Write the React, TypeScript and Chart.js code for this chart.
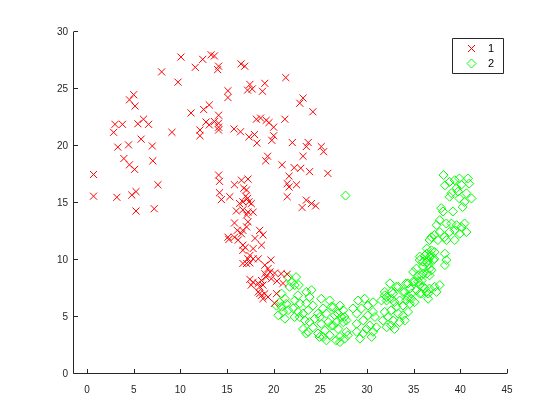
import React, { useEffect, useRef } from "react";
import { Chart, registerables } from "chart.js";

Chart.register(...registerables);

const class1X = [
  10.07, 12.4, 13.3, 13.65, 11.6, 14.1, 14.0, 8.0, 9.75, 5.0, 4.55, 5.15, 11.15, 12.5, 13.1, 14.1, 12.75, 13.1, 13.65, 14.1,
  14.1, 14.1, 12.1, 12.1, 3.0, 3.8, 2.85, 5.45, 6.05, 6.6, 9.1, 5.8, 4.45, 3.3, 7.0, 3.95, 4.55, 5.1, 7.05, 0.7,
  0.7, 3.2, 4.8, 5.25, 7.6, 5.25, 7.2, 14.1, 14.2, 14.2, 14.4, 16.5, 16.9, 21.3, 17.45, 17.2, 17.7, 19.05, 18.8, 15.1,
  15.1, 23.15, 22.8, 24.2, 15.75, 16.45, 18.15, 18.6, 19.2, 19.5, 17.35, 17.95, 18.2, 20.0, 20.0, 19.8, 21.2, 22.0, 23.7, 23.5,
  25.1, 25.35, 19.35, 19.15, 23.15, 20.9, 22.2, 22.9, 23.85, 25.8, 21.65, 21.45, 21.65, 22.45, 21.45, 23.5, 24.05, 24.5, 23.05, 15.3,
  15.8, 16.55, 17.25, 16.8, 17.1, 17.0, 17.2, 16.7, 17.35, 17.6, 16.35, 16.0, 16.7, 17.25, 17.8, 17.1, 17.25, 17.1, 15.8, 16.1,
  16.55, 16.7, 15.1, 15.2, 15.8, 16.2, 18.5, 18.85, 18.0, 18.7, 16.7, 16.95, 16.7, 17.8, 17.45, 17.25, 17.8, 18.35, 16.7, 17.1,
  17.45, 19.05, 19.7, 19.4, 19.05, 19.6, 20.1, 20.8, 21.45, 19.2, 18.7, 19.75, 21.0, 20.35, 17.45, 17.8, 17.6, 18.35, 18.5, 18.85,
  18.35, 18.7, 19.05, 18.85, 19.4, 18.5, 20.3, 20.1,
];
const class1Y = [
  27.8, 27.6, 28.0, 27.9, 26.9, 27.0, 26.7, 26.5, 25.6, 24.5, 24.05, 23.5, 22.9, 23.2, 23.6, 22.7, 22.1, 21.85, 22.15, 22.0,
  21.65, 21.4, 21.4, 20.9, 21.9, 21.9, 21.2, 21.95, 22.35, 21.9, 21.2, 20.6, 20.1, 19.9, 20.0, 18.9, 18.35, 17.95, 18.7, 17.5,
  15.6, 15.5, 15.7, 16.0, 16.6, 14.3, 14.5, 17.45, 16.9, 15.9, 15.3, 27.2, 27.0, 26.0, 25.4, 24.9, 25.0, 25.5, 24.8, 24.85,
  24.25, 24.2, 23.75, 23.0, 21.5, 21.25, 22.35, 22.45, 22.25, 22.05, 20.8, 21.0, 20.25, 21.65, 20.9, 20.5, 22.35, 20.3, 20.3, 19.95,
  19.95, 19.5, 19.1, 18.7, 19.1, 18.35, 18.1, 18.05, 17.75, 17.6, 17.35, 16.7, 16.4, 16.6, 15.55, 15.25, 14.95, 14.75, 14.6, 15.55,
  16.6, 17.0, 17.1, 16.3, 16.15, 15.6, 15.4, 15.1, 15.1, 14.95, 14.95, 14.3, 14.4, 14.2, 14.2, 13.95, 13.35, 12.9, 13.25, 12.6,
  12.3, 12.6, 12.0, 11.8, 12.0, 11.75, 12.6, 12.2, 11.9, 11.3, 11.3, 11.1, 10.85, 11.0, 10.4, 10.1, 10.1, 10.1, 9.7, 9.7,
  9.75, 9.55, 10.0, 9.25, 8.8, 8.95, 8.85, 8.8, 8.75, 8.5, 8.2, 8.35, 7.95, 8.15, 8.3, 8.05, 7.8, 7.95, 7.65, 7.8,
  7.2, 6.9, 7.05, 6.6, 6.75, 7.05, 7.05, 6.2,
];

const class2X = [
  21.55, 21.9, 22.25, 21.7, 20.85, 21.2, 20.65, 21.35, 20.85, 20.3, 20.5, 21.0, 21.55, 21.2,
  22.6, 22.25, 22.8, 22.1, 22.6, 22.25, 22.8, 23.15, 22.4, 22.7,
  23.5, 24.05, 23.85, 23.5, 24.2, 23.7, 23.35, 23.85, 24.4, 24.75, 24.2, 23.15, 23.7, 23.5,
  25.1, 26.0, 25.3, 26.2, 25.65, 24.95, 25.1, 25.85, 26.2, 25.5, 24.75, 25.3, 26.0, 25.65, 24.9,
  27.1, 27.45, 26.9, 27.25, 26.7, 27.45, 27.8, 26.9, 27.8, 27.1, 26.7, 27.6, 27.95, 27.7, 27.1,
  26.4, 26.55, 27.6, 26.4,
  28.5, 28.9, 29.05, 29.75, 30.65, 30.1, 29.4, 30.65, 30.1, 30.85, 29.6, 28.9, 30.3, 31.0, 29.95, 30.65, 29.6, 30.5, 28.9, 29.25,
  31.9, 32.6, 32.25, 31.7, 32.8, 33.35, 33.85, 34.4, 33.5, 34.05, 32.1, 32.6, 32.95,
  32.45, 33.15, 32.6, 31.9, 31.55, 32.1, 32.6, 32.95, 33.5, 34.2, 34.75, 35.1, 33.85, 34.6, 33.15,
  34.4, 34.6, 34.95, 35.5, 35.65, 35.3, 35.85, 36.2, 36.4, 36.55, 37.25, 37.8, 37.45, 34.05,
  35.65, 36.4, 36.9, 37.25, 38.35, 36.0, 36.55, 37.1, 36.0, 36.55, 36.9, 38.35, 38.5, 35.3, 34.95, 35.5, 36.0, 36.7,
  38.2, 38.35, 38.85, 39.4, 39.9, 40.8, 40.95, 40.1, 39.6, 39.05, 38.85, 39.75, 40.65, 41.2, 40.45, 40.25, 39.9,
  37.95, 38.15, 39.2, 37.8, 38.5, 39.05, 39.6, 40.1, 40.45, 40.65, 39.95, 39.4, 38.85, 38.3, 37.8, 37.45, 37.25, 36.9, 36.7, 37.6, 39.4, 38.5,
  36.4, 36.9, 36.2, 36.7, 37.2, 35.65, 36.4, 36.7, 35.85, 36.4,
  33.35, 34.2, 35.1, 35.85, 36.0, 36.7, 31.9, 32.8, 33.85, 34.75, 35.65, 36.55, 32.1, 34.4,
];
const class2Y = [
  8.5, 8.05, 7.8, 7.65, 7.05, 6.6, 6.3, 6.15, 5.9, 6.0, 5.15, 5.45, 5.6, 4.85,
  6.9, 6.45, 6.2, 5.75, 5.45, 5.0, 5.0, 5.3, 8.5, 7.8,
  7.2, 7.35, 6.75, 6.2, 6.0, 5.6, 4.7, 4.55, 4.85, 5.3, 4.1, 3.95, 3.7, 3.55,
  6.6, 6.45, 5.75, 5.9, 5.3, 5.0, 4.4, 4.55, 4.25, 3.8, 3.55, 3.25, 3.4, 2.95, 3.25,
  6.0, 5.6, 5.3, 5.0, 4.55, 4.55, 4.7, 3.95, 3.7, 3.25, 2.95, 3.1, 3.4, 15.65, 2.8,
  5.85, 5.15, 5.0, 4.25,
  5.75, 5.3, 6.45, 6.6, 6.3, 6.0, 5.75, 5.45, 5.15, 5.0, 4.7, 4.4, 4.25, 4.1, 3.95, 3.7, 3.55, 3.25, 3.7, 3.1,
  5.45, 5.6, 5.0, 4.7, 4.7, 5.3, 5.15, 5.45, 4.55, 4.7, 4.1, 4.25, 3.95,
  7.95, 7.65, 7.2, 6.9, 6.45, 6.45, 6.6, 6.3, 6.45, 6.45, 6.6, 6.3, 6.0, 6.15, 5.9,
  7.95, 7.5, 8.1, 8.1, 7.8, 7.35, 7.05, 7.5, 7.2, 6.6, 7.65, 7.8, 7.2, 7.2,
  10.3, 10.55, 10.4, 10.7, 10.55, 9.85, 10.0, 10.0, 9.4, 9.55, 9.1, 9.55, 10.0, 9.25, 8.95, 8.65, 8.8, 8.65,
  17.45, 16.55, 16.85, 17.0, 17.15, 17.15, 16.7, 16.6, 16.3, 15.85, 15.55, 16.0, 15.85, 15.4, 15.1, 14.65, 15.4,
  14.55, 14.25, 14.25, 13.5, 13.2, 13.2, 13.05, 12.9, 13.2, 12.45, 12.3, 12.6, 12.45, 12.0, 12.45, 13.05, 12.2, 12.0, 11.75, 11.75, 11.75, 11.75,
  11.0, 10.85, 10.4, 10.25, 10.1, 10.0, 9.8, 9.25, 8.65, 8.8,
  7.65, 7.95, 8.1, 8.2, 7.65, 7.5, 7.2, 7.05, 7.2, 7.05, 7.05, 7.05, 6.75, 6.75,
];

const xTicks = [0, 5, 10, 15, 20, 25, 30, 35, 40, 45];
const yTicks = [0, 5, 10, 15, 20, 25, 30];
const legendLabels = ["1", "2"];

const AXIS_COLOR = "#262626";
const RED = "#ff0000";
const GREEN = "#00ff00";

function toPoints(xs: number[], ys: number[]) {
  return xs.map((x, i) => ({ x, y: ys[i] }));
}

const axesPlugin = {
  id: "matlabAxes",
  afterDatasetsDraw(chart: any) {
    const { ctx, chartArea } = chart;
    const xs = chart.scales.x;
    const ys = chart.scales.y;
    const left = Math.round(chartArea.left) + 0.5;
    const bottom = Math.round(chartArea.bottom) - 0.5;
    ctx.save();
    ctx.globalAlpha = 1;
    ctx.setLineDash([]);
    ctx.strokeStyle = AXIS_COLOR;
    ctx.lineWidth = 1;
    ctx.beginPath();
    ctx.moveTo(left, Math.round(chartArea.top));
    ctx.lineTo(left, bottom);
    ctx.lineTo(Math.round(chartArea.right), bottom);
    const tl = 4.5;
    xTicks.forEach((v) => {
      const px = Math.round(xs.getPixelForValue(v)) + 0.5;
      ctx.moveTo(px, bottom);
      ctx.lineTo(px, bottom - tl);
    });
    yTicks.forEach((v) => {
      const py = Math.round(ys.getPixelForValue(v)) - 0.5;
      ctx.moveTo(left, py);
      ctx.lineTo(left + tl, py);
    });
    ctx.stroke();

    // legend box
    const bx = 452.5, by = 38.5, bw = 51, bh = 35;
    ctx.fillStyle = "#ffffff";
    ctx.fillRect(bx, by, bw, bh);
    ctx.beginPath();
    ctx.rect(bx, by, bw, bh);
    ctx.strokeStyle = AXIS_COLOR;
    ctx.lineWidth = 1;
    ctx.stroke();

    const mx = 471.5;
    const rowY = [48.5, 63.5];
    // red cross marker
    ctx.beginPath();
    ctx.moveTo(mx - 3.5, rowY[0] - 3.5);
    ctx.lineTo(mx + 3.5, rowY[0] + 3.5);
    ctx.moveTo(mx + 3.5, rowY[0] - 3.5);
    ctx.lineTo(mx - 3.5, rowY[0] + 3.5);
    ctx.strokeStyle = RED;
    ctx.lineWidth = 1;
    ctx.stroke();
    // green diamond marker
    ctx.beginPath();
    ctx.moveTo(mx, rowY[1] - 4.5);
    ctx.lineTo(mx + 4.5, rowY[1]);
    ctx.lineTo(mx, rowY[1] + 4.5);
    ctx.lineTo(mx - 4.5, rowY[1]);
    ctx.closePath();
    ctx.strokeStyle = GREEN;
    ctx.lineWidth = 1;
    ctx.stroke();

    ctx.fillStyle = "#000000";
    ctx.font = "11px 'Liberation Sans', Arial, sans-serif";
    ctx.textAlign = "left";
    ctx.textBaseline = "middle";
    legendLabels.forEach((t, i) => {
      ctx.fillText(t, 488, rowY[i] + 0.5);
    });
    ctx.restore();
  },
};

export default function App() {
  const canvasRef = useRef<HTMLCanvasElement | null>(null);

  useEffect(() => {
    if (!canvasRef.current) return;
    const chart = new Chart(canvasRef.current, {
      type: "scatter",
      data: {
        datasets: [
          {
            label: legendLabels[0],
            data: toPoints(class1X, class1Y),
            pointStyle: "crossRot",
            pointRadius: 5,
            pointHoverRadius: 5,
            borderColor: RED,
            backgroundColor: RED,
            pointBorderWidth: 1,
          },
          {
            label: legendLabels[1],
            data: toPoints(class2X, class2Y),
            pointStyle: "rectRot",
            pointRadius: 4.5,
            pointHoverRadius: 4.5,
            borderColor: GREEN,
            backgroundColor: "rgba(0,0,0,0)",
            pointBorderWidth: 1,
          },
        ],
      },
      options: {
        responsive: false,
        animation: false,
        events: [],
        layout: { padding: { left: 0, top: 32, right: 53, bottom: 0 } },
        plugins: {
          legend: { display: false },
          tooltip: { enabled: false },
        },
        scales: {
          x: {
            type: "linear",
            min: -1.5,
            max: 45,
            grid: { display: false, drawTicks: false },
            border: { display: false },
            afterBuildTicks: (s: any) => {
              s.ticks = xTicks.map((v) => ({ value: v }));
            },
            afterFit: (s: any) => {
              s.height = 46;
            },
            ticks: {
              color: AXIS_COLOR,
              padding: 10,
              maxRotation: 0,
              autoSkip: false,
              font: { family: "'Liberation Sans', Arial, sans-serif", size: 10 },
            },
          },
          y: {
            type: "linear",
            min: 0,
            max: 30,
            grid: { display: false, drawTicks: false },
            border: { display: false },
            afterBuildTicks: (s: any) => {
              s.ticks = yTicks.map((v) => ({ value: v }));
            },
            afterFit: (s: any) => {
              s.width = 73;
            },
            ticks: {
              color: AXIS_COLOR,
              padding: 5,
              autoSkip: false,
              font: { family: "'Liberation Sans', Arial, sans-serif", size: 10 },
            },
          },
        },
      },
      plugins: [axesPlugin],
    });
    return () => chart.destroy();
  }, []);

  return (
    <div style={{ position: "fixed", left: 0, top: 0, width: 560, height: 420, background: "#fff" }}>
      <canvas ref={canvasRef} width={560} height={420} style={{ width: 560, height: 420 }} />
    </div>
  );
}
